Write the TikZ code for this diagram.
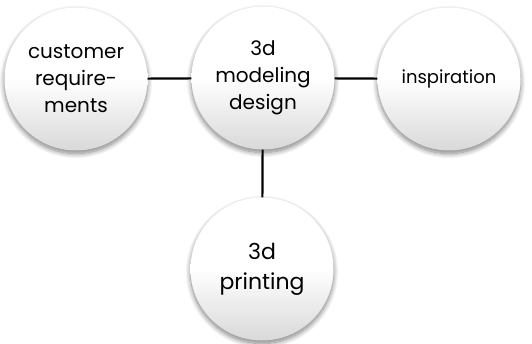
\documentclass[tikz,border=0pt]{standalone}
\usepackage{fontspec}
\setmainfont{Poppins}
\usetikzlibrary{shadows.blur}
\begin{document}
\begin{tikzpicture}[x=1pt,y=-1pt,
  bubble/.style={circle, minimum size=143pt, inner sep=0pt, align=center,
    top color=white, bottom color=black!15, middle color=white,
    blur shadow={shadow xshift=0pt, shadow yshift=-3pt, shadow blur radius=5pt,
      shadow blur steps=10, shadow opacity=50},
    text=black},
  link/.style={draw=black, line width=2.2pt}]
\useasboundingbox (0,0) rectangle (532,343);
\node[bubble, font=\fontsize{20}{27}\selectfont] (cust) at (76,79) {customer\\require-\\ments};
\node[bubble, font=\fontsize{20}{27}\selectfont] (model) at (263,78) {3d\\modeling\\design};
\node[bubble, font=\fontsize{18}{22}\selectfont] (insp) at (449,79) {inspiration};
\node[bubble, font=\fontsize{22}{30}\selectfont] (print) at (262,269) {3d\\printing};
\draw[link] (cust) -- (model);
\draw[link] (model) -- (insp);
\draw[link] (model) -- (print);
\end{tikzpicture}
\end{document}
